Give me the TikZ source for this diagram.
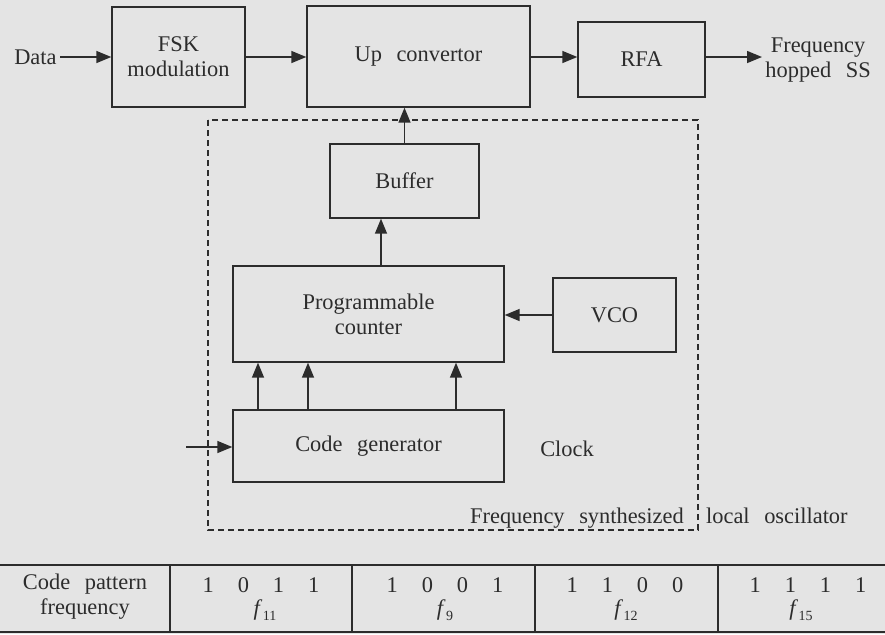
\documentclass[tikz,border=0pt]{standalone}
\usepackage{fontspec}
\setmainfont{Liberation Serif}
\usetikzlibrary{arrows.meta}
\definecolor{scangray}{HTML}{E4E4E4}
\definecolor{inkgray}{HTML}{2C2C2C}

\newcommand{\fsub}[1]{\textit{f}\kern0.2pt\raisebox{-0.45ex}{\scriptsize #1}}
\newcommand{\bitrow}[4]{#1\hspace{12pt}#2\hspace{12pt}#3\hspace{12pt}#4}
\newcommand{\wsp}{\hspace{0.65em}}

\begin{document}
\begin{tikzpicture}[x=0.5pt, y=-0.5pt,
  wire/.style={inkgray, line width=0.75pt, -{Triangle[length=7.5pt, width=6pt]}},
  blk/.style={draw=inkgray, line width=0.7pt, inner sep=0pt, text=inkgray, align=center},
  txt/.style={text=inkgray, inner sep=1.5pt, align=center},
  rule/.style={inkgray, line width=0.7pt},
  font=\fontsize{11.2}{12.5}\selectfont
]
\fill[scangray] (0,0) rectangle (885,634);
\useasboundingbox (0,0) rectangle (885,634);

% ===== Transmitter chain =====
\node[txt, anchor=east] (data) at (60,57) {Data};
\node[blk, minimum width=66.5pt, minimum height=50pt] (fsk) at (178.5,57) {FSK\\modulation};
\node[blk, minimum width=111.5pt, minimum height=50.5pt] (up) at (418.5,56.5) {Up\wsp convertor};
\node[blk, minimum width=63.5pt, minimum height=37.5pt] (rfa) at (641.5,59.5) {RFA};
\node[txt, anchor=west] (fhss) at (762,60) {Frequency\\hopped\wsp SS};

\draw[wire] (data.east |- 0,57) -- (fsk.west |- 0,57);
\draw[wire] (fsk.east |- 0,57) -- (up.west |- 0,57);
\draw[wire] (up.east |- 0,57) -- (rfa.west |- 0,57);
\draw[wire] (rfa.east |- 0,57) -- (fhss.west |- 0,57);

% ===== Frequency synthesizer =====
\draw[inkgray, line width=0.6pt, dash pattern=on 3pt off 2pt] (208,120) rectangle (698,530);

\node[blk, minimum width=74.5pt, minimum height=37pt] (buf) at (404.5,181) {Buffer};
\node[blk, minimum width=135.5pt, minimum height=48pt] (cnt) at (368.5,314) {Programmable\\counter};
\node[blk, minimum width=61.5pt, minimum height=37pt] (vco) at (614.5,315) {VCO};
\node[blk, minimum width=135.5pt, minimum height=36pt] (gen) at (368.5,446) {Code\wsp generator};
\node[txt] (clk) at (567,449) {Clock};
\coordinate (gin) at (186,447);
\node[txt, anchor=east] (lo) at (851,518) {Frequency\wsp synthesized\hspace{1em}local\wsp oscillator};

\draw[wire] (buf.north) -- (buf.north |- up.south);
\draw[wire] ([xshift=6.25pt]cnt.north) -- ([xshift=6.25pt]cnt.north |- buf.south);
\draw[wire] (vco.west) -- (vco.west -| cnt.east);
\foreach \dx in {-55.25pt, -30.25pt, 43.75pt}
  \draw[wire] ([xshift=\dx]gen.north) -- ([xshift=\dx]gen.north |- cnt.south);
\draw[wire] (gin) -- (gin -| gen.west);

% ===== Code pattern table =====
\draw[rule] (0,565) -- (885,565);
\draw[rule] (0,632) -- (885,632);
\foreach \x in {170,352,535,718}
  \draw[rule] (\x,565) -- (\x,632);

\node[txt] (head) at (85,597) {Code\wsp pattern\\frequency};
\node[txt] (ba) at (261,585) {\bitrow{1}{0}{1}{1}};
\node[txt] (fa) at (265,610) {\fsub{11}};
\node[txt] (bb) at (445,585) {\bitrow{1}{0}{0}{1}};
\node[txt] (fb) at (445,610) {\fsub{9}};
\node[txt] (bc) at (625,585) {\bitrow{1}{1}{0}{0}};
\node[txt] (fc) at (626,610) {\fsub{12}};
\node[txt] (bd) at (808,585) {\bitrow{1}{1}{1}{1}};
\node[txt] (fd) at (801,610) {\fsub{15}};

\end{tikzpicture}
\end{document}
